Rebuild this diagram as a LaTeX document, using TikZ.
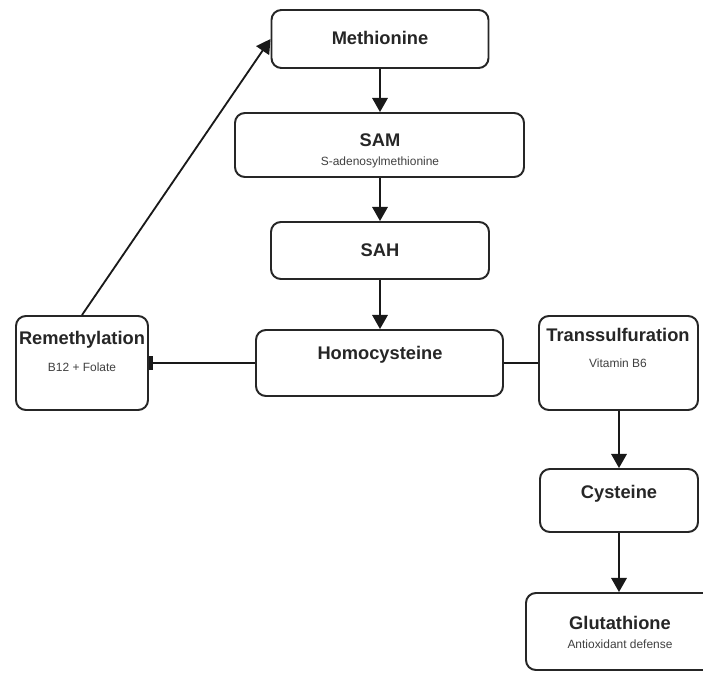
\documentclass[tikz,border=0pt]{standalone}
\usepackage{fontspec}
\setmainfont{Liberation Sans}
\usepackage{tikz}
\usetikzlibrary{arrows.meta, positioning, calc}

\newcommand{\pxu}{0.025cm}
\tikzset{
    box/.style={draw=black!85, line width=1.4pt, rounded corners=7pt, fill=white, inner sep=0pt},
    title/.style={font=\fontsize{13}{15}\selectfont\bfseries, text=black!85, inner sep=0pt},
    sub/.style={font=\fontsize{8.5}{10}\selectfont, text=black!75, inner sep=0pt},
    flow/.style={line width=1.3pt, draw=black!90, -{Triangle[width=11pt,length=10pt]}},
    link/.style={line width=1.3pt, draw=black!90}
}

\begin{document}
\begin{tikzpicture}[x=\pxu, y=-\pxu]
        \useasboundingbox (0,0) rectangle (703,673);

        \node[box, minimum width=217*\pxu, minimum height=58*\pxu] (met) at (380, 39) {}; % methionine
        \node[box, minimum width=289*\pxu, minimum height=64*\pxu] (sam) at (379.5, 145) {}; % SAM
        \node[box, minimum width=218*\pxu, minimum height=57*\pxu] (sah) at (380, 250.5) {}; % SAH
        \node[box, minimum width=247*\pxu, minimum height=66*\pxu] (hcy) at (379.5, 363) {}; % homocysteine
        \node[box, minimum width=132*\pxu, minimum height=94*\pxu] (rem) at (82, 363) {}; % remethylation
        \node[box, minimum width=159*\pxu, minimum height=94*\pxu] (trs) at (618.5, 363) {}; % transsulfuration
        \node[box, minimum width=158*\pxu, minimum height=63*\pxu] (cys) at (619, 500.5) {}; % cysteine
        \node[box, minimum width=188*\pxu, minimum height=77*\pxu] (glu) at (620, 631.5) {}; % glutathione

        % texts
        \node[title] (metT) at (380, 38) {Methionine};
        \node[title] (samT) at (380, 140) {SAM};
        \node[sub] (samS) at (380, 162) {S-adenosylmethionine};
        \node[title] (sahT) at (380, 250) {SAH};
        \node[title] (hcyT) at (380, 355) {Homocysteine};
        \node[title] (remT) at (82, 340) {Remethylation};
        \node[sub] (remS) at (82, 367) {B12 + Folate};
        \node[title] (trsT) at (618, 335) {Transsulfuration};
        \node[sub] (trsS) at (618, 363) {Vitamin B6};
        \node[title] (cysT) at (619, 494) {Cysteine};
        \node[title] (gluT) at (620, 623) {Glutathione};
        \node[sub] (gluS) at (620, 644) {Antioxidant defense};

        \draw
            (met.south) edge[flow] (met.south |- sam.north)
            (met.south |- sam.south) edge[flow] (met.south |- sah.north)
            (met.south |- sah.south) edge[flow] (met.south |- hcy.north)
            (hcy.west) edge[link, -{Bar[width=10pt, line width=2.5pt]}] (rem.east)
            (hcy.east) edge[link] (trs.west)
            (cys.north |- trs.south) edge[flow] (cys.north)
            (cys.south) edge[flow] (cys.south |- glu.north)
            (rem.north) edge[flow] (met.west)
            ;
    \end{tikzpicture}
\end{document}
